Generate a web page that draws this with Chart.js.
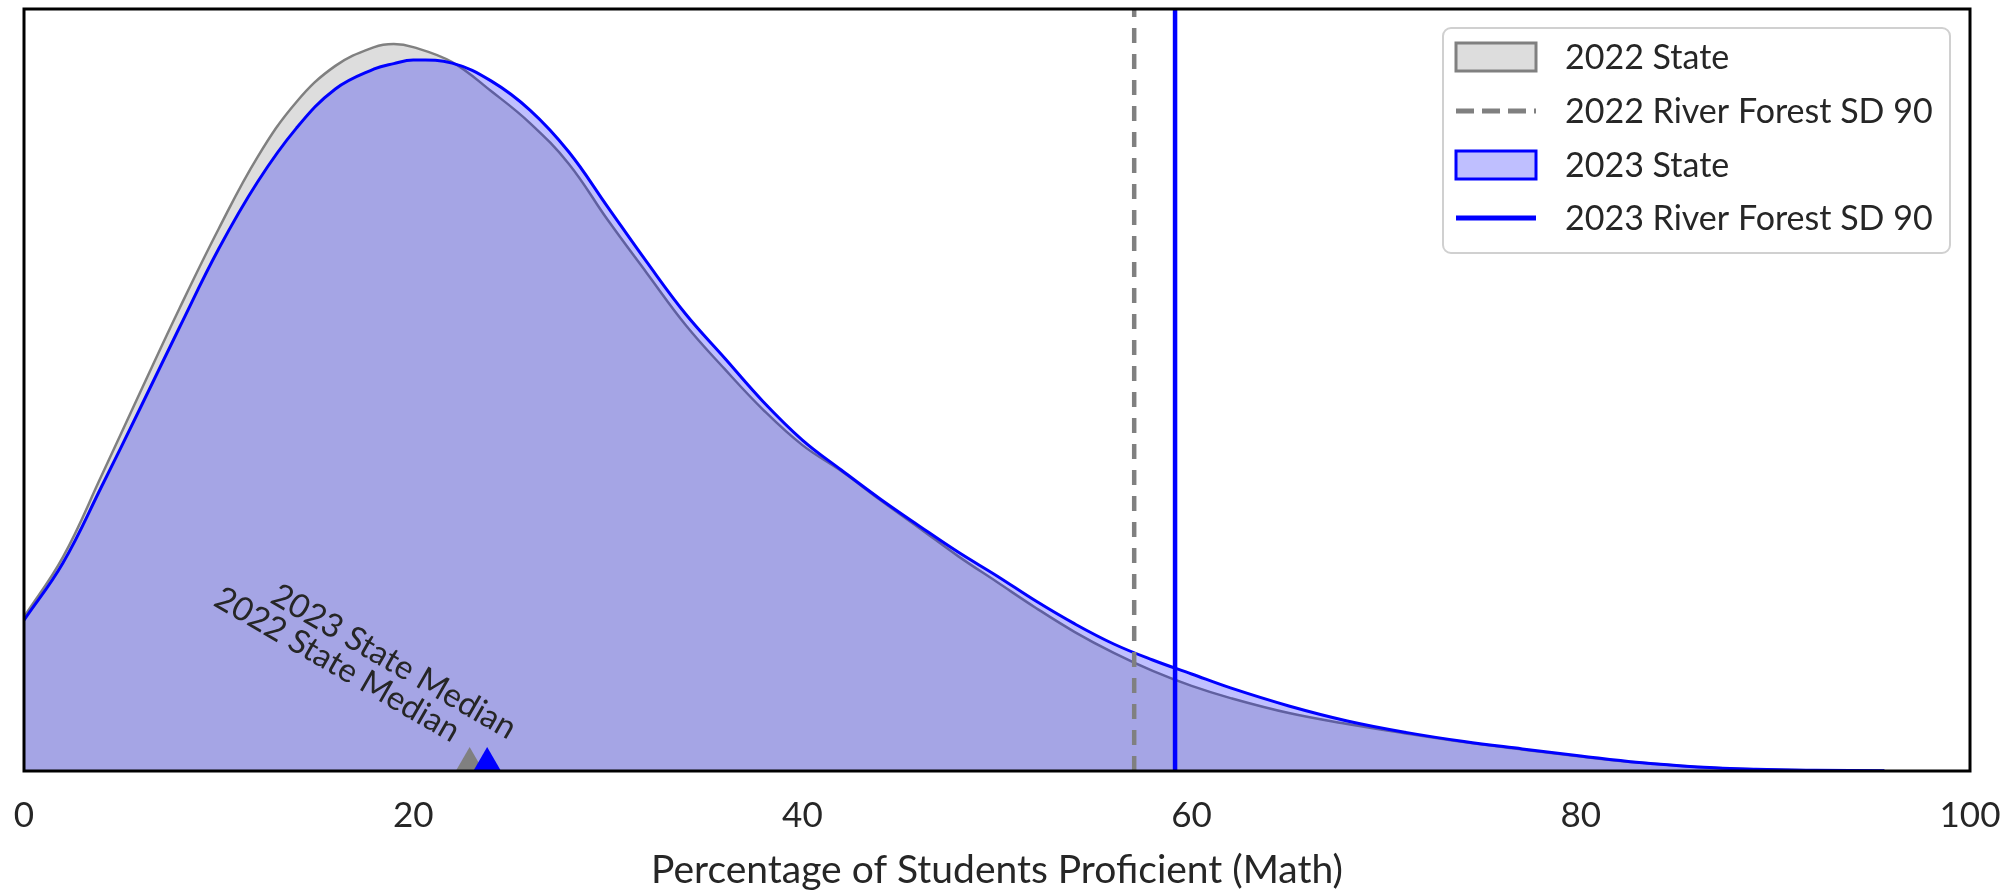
<!DOCTYPE html>
<html lang="en">
  <head>
    <meta charset="UTF-8" />
    <title>Math proficiency distribution</title>
    <style>
      html, body { margin: 0; padding: 0; background: #fff; }
      #wrap { width: 2015px; height: 890px; }
    </style>
  </head>
  <body>
    <div id="wrap"><canvas id="myChart" width="2015" height="890"></canvas></div>
  </body>
</html>
<script src="https://cdn.jsdelivr.net/npm/chart.js"></script>
<script>
  // percent proficient (x) and the estimated density
  var xs = [0, 2, 4, 6, 8, 10, 12, 14, 16, 18, 19, 20, 22, 24, 26, 28, 30, 32, 34, 36, 38, 40,
    42, 44, 46, 48, 50, 52, 54, 56, 58, 60, 62, 65, 68, 71, 74, 77, 80, 83, 86, 89, 92, 95.6];

  var state2022 = [0.00606, 0.00842, 0.01165, 0.01496, 0.01823, 0.02134, 0.02417, 0.02634, 0.02776,
    0.0285, 0.02862, 0.0285, 0.02791, 0.02677, 0.02551, 0.0239, 0.02169, 0.01961, 0.01756, 0.01583,
    0.01421, 0.01283, 0.01181, 0.01067, 0.00957, 0.00846, 0.00744, 0.00642, 0.00547, 0.00465,
    0.00394, 0.00335, 0.00287, 0.00228, 0.00185, 0.00148, 0.00114, 0.00085, 0.00057, 0.00033,
    0.00016, 0.00007, 0.00003, 0.00001];

  var state2023 = [0.00594, 0.00819, 0.01122, 0.01433, 0.01748, 0.02055, 0.02319, 0.02531, 0.02685,
    0.02764, 0.02785, 0.02799, 0.02787, 0.02717, 0.02602, 0.02437, 0.0222, 0.02004, 0.01799,
    0.01626, 0.01453, 0.01303, 0.01185, 0.01071, 0.00965, 0.00862, 0.00768, 0.00669, 0.00579,
    0.005, 0.00437, 0.00382, 0.00327, 0.00256, 0.00197, 0.00152, 0.00116, 0.00087, 0.00059,
    0.00033, 0.00016, 0.00007, 0.00003, 0.00001];

  var medians = [22.9, 23.8]; // 2022, 2023 state median
  var district = [57.05, 59.15]; // 2022, 2023 River Forest SD 90
  var yTop = 0.03;

  var legendLabels = ["2022 State", "2022 River Forest SD 90", "2023 State", "2023 River Forest SD 90"];
  var medianLabels = ["2022 State Median", "2023 State Median"];

  var FONT = "Lato";
  var TEXT = "#262626";

  var pts2022 = [];
  var pts2023 = [];
  for (var c = 0; c < xs.length; c++) {
    pts2022.push({ x: xs[c], y: state2022[c] });
    pts2023.push({ x: xs[c], y: state2023[c] });
  }

  const extras = {
    id: "extras",
    afterDatasetsDraw(chart) {
      const ctx = chart.ctx;
      const a = chart.chartArea;
      const sx = chart.scales.x;

      // rotated median captions
      ctx.save();
      ctx.font = "33px " + FONT;
      ctx.fillStyle = TEXT;
      ctx.textAlign = "right";
      ctx.textBaseline = "alphabetic";
      var spots = [
        [sx.getPixelForValue(medians[0]) - 18, a.bottom - 28],
        [sx.getPixelForValue(medians[1]) + 21, a.bottom - 31],
      ];
      for (var i = 0; i < 2; i++) {
        ctx.save();
        ctx.translate(spots[i][0], spots[i][1]);
        ctx.rotate((30 * Math.PI) / 180);
        ctx.fillText(medianLabels[i], 0, 0);
        ctx.restore();
      }
      ctx.restore();

      // frame
      ctx.save();
      ctx.strokeStyle = "#000";
      ctx.lineWidth = 3;
      ctx.strokeRect(a.left, a.top, a.right - a.left, a.bottom - a.top);
      ctx.restore();
    },
    afterDraw(chart) {
      const ctx = chart.ctx;
      const a = chart.chartArea;
      const w = 507, h = 225;
      const bx = a.right - 20 - w, by = a.top + 19;

      ctx.save();
      ctx.beginPath();
      ctx.roundRect(bx, by, w, h, 8);
      ctx.fillStyle = "rgba(255,255,255,0.85)";
      ctx.fill();
      ctx.strokeStyle = "#d0d0d0";
      ctx.lineWidth = 2;
      ctx.stroke();

      const hx = bx + 13, hw = 80;
      const rows = [by + 29, by + 83, by + 137, by + 190];

      // 2022 State patch
      ctx.fillStyle = "rgb(221,221,221)";
      ctx.fillRect(hx, rows[0] - 14, hw, 28);
      ctx.strokeStyle = "rgb(128,128,128)";
      ctx.lineWidth = 3;
      ctx.strokeRect(hx, rows[0] - 14, hw, 28);

      // 2022 district dashed
      ctx.beginPath();
      ctx.setLineDash([18, 8]);
      ctx.lineWidth = 5;
      ctx.moveTo(hx, rows[1]);
      ctx.lineTo(hx + hw, rows[1]);
      ctx.stroke();
      ctx.setLineDash([]);

      // 2023 State patch
      ctx.fillStyle = "rgba(0,0,255,0.25)";
      ctx.fillRect(hx, rows[2] - 14, hw, 28);
      ctx.strokeStyle = "rgb(0,0,255)";
      ctx.lineWidth = 3;
      ctx.strokeRect(hx, rows[2] - 14, hw, 28);

      // 2023 district line
      ctx.beginPath();
      ctx.lineWidth = 5;
      ctx.moveTo(hx, rows[3]);
      ctx.lineTo(hx + hw, rows[3]);
      ctx.stroke();

      ctx.font = "34px " + FONT;
      ctx.fillStyle = TEXT;
      ctx.textAlign = "left";
      ctx.textBaseline = "middle";
      for (var i = 0; i < legendLabels.length; i++) {
        ctx.fillText(legendLabels[i], bx + 122, rows[i] + 1);
      }
      ctx.restore();
    },
  };

  const config = {
    type: "scatter",
    data: {
      datasets: [
        {
          label: "medians",
          data: [
            { x: medians[0], y: 0 },
            { x: medians[1], y: 0 },
          ],
          pointStyle: "triangle",
          pointRadius: 24,
          pointBorderWidth: 0,
          backgroundColor: ["rgb(128,128,128)", "rgb(0,0,255)"],
          borderColor: ["rgb(128,128,128)", "rgb(0,0,255)"],
          clip: 0,
          order: 0,
        },
        {
          label: legendLabels[3],
          data: [
            { x: district[1], y: 0 },
            { x: district[1], y: yTop },
          ],
          showLine: true,
          pointRadius: 0,
          borderColor: "rgb(0,0,255)",
          borderWidth: 4.5,
          order: 1,
        },
        {
          label: legendLabels[1],
          data: [
            { x: district[0], y: 0 },
            { x: district[0], y: yTop },
          ],
          showLine: true,
          pointRadius: 0,
          borderColor: "rgb(128,128,128)",
          borderWidth: 4.5,
          borderDash: [15, 11],
          order: 2,
        },
        {
          label: legendLabels[2],
          data: pts2023,
          showLine: true,
          pointRadius: 0,
          borderColor: "rgb(0,0,255)",
          borderWidth: 3,
          backgroundColor: "rgba(0,0,255,0.25)",
          fill: "origin",
          tension: 0.4,
          order: 3,
        },
        {
          label: legendLabels[0],
          data: pts2022,
          showLine: true,
          pointRadius: 0,
          borderColor: "rgb(128,128,128)",
          borderWidth: 2.5,
          backgroundColor: "rgb(221,221,221)",
          fill: "origin",
          tension: 0.4,
          order: 4,
        },
      ],
    },
    options: {
      responsive: false,
      animation: false,
      devicePixelRatio: 1,
      layout: { autoPadding: false, padding: { left: 24, right: 45, top: 9, bottom: 0 } },
      plugins: {
        legend: { display: false },
        tooltip: { enabled: false },
      },
      scales: {
        x: {
          type: "linear",
          min: 0,
          max: 100,
          grid: { display: false, drawTicks: false },
          border: { display: false },
          afterFit: function (scale) {
            scale.height = 119;
            scale.paddingLeft = 0;
            scale.paddingRight = 0;
          },
          ticks: {
            stepSize: 20,
            padding: 24,
            color: TEXT,
            font: { family: FONT, size: 35, lineHeight: 1.2 },
          },
          title: {
            display: true,
            text: "Percentage of Students Proficient (Math)",
            color: TEXT,
            font: { family: FONT, size: 39, lineHeight: 1 },
            padding: { top: 0, bottom: 0 },
          },
        },
        y: {
          display: false,
          min: 0,
          max: yTop,
        },
      },
    },
    plugins: [extras],
  };

  Chart.defaults.font.family = FONT;
  const myChart = new Chart(document.getElementById("myChart"), config);
</script>
